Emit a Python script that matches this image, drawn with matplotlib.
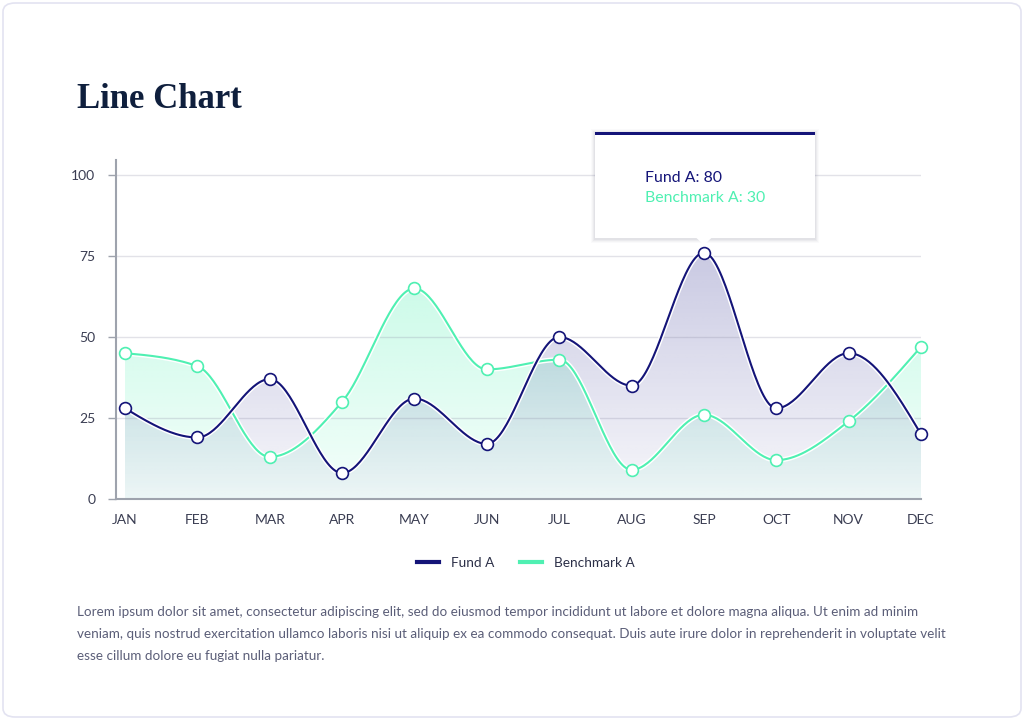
import numpy as np
import matplotlib
matplotlib.use("Agg")
import matplotlib.pyplot as plt
from matplotlib.patches import FancyBboxPatch, Rectangle, Polygon
from matplotlib.lines import Line2D

months = ["JAN", "FEB", "MAR", "APR", "MAY", "JUN", "JUL", "AUG", "SEP", "OCT", "NOV", "DEC"]
fund_a = [28, 19, 37, 8, 31, 17, 50, 35, 76, 28, 45, 20]
bench_a = [45, 41, 13, 30, 65, 40, 43, 9, 26, 12, 24, 47]
y_ticks = [0, 25, 50, 75, 100]
tooltip_month = "SEP"
tooltip_lines = ["Fund A: 80", "Benchmark A: 30"]
title = "Line Chart"
body = ("Lorem ipsum dolor sit amet, consectetur adipiscing elit, sed do eiusmod tempor incididunt ut labore et dolore magna aliqua. Ut enim ad minim\n"
        "veniam, quis nostrud exercitation ullamco laboris nisi ut aliquip ex ea commodo consequat. Duis aute irure dolor in reprehenderit in voluptate velit\n"
        "esse cillum dolore eu fugiat nulla pariatur.")

NAVY = "#141478"
MINT = "#4ff0b2"
SANS = ["Lato", "DejaVu Sans"]


def monotone(xs, ys, n=40):
    xs = np.asarray(xs, float); ys = np.asarray(ys, float)
    m = len(xs)
    h = np.diff(xs); s = np.diff(ys) / h
    t = np.zeros(m)
    for i in range(1, m - 1):
        s0, s1 = s[i - 1], s[i]
        p = (s0 * h[i] + s1 * h[i - 1]) / (h[i - 1] + h[i])
        t[i] = (np.sign(s0) + np.sign(s1)) * min(abs(s0), abs(s1), 0.5 * abs(p))
    t[0] = (3 * s[0] - t[1]) / 2
    t[-1] = (3 * s[-1] - t[-2]) / 2
    X, Y = [], []
    for i in range(m - 1):
        u = np.linspace(0, 1, n, endpoint=(i == m - 2))
        dx = h[i]
        P0 = (xs[i], ys[i]); P1 = (xs[i] + dx / 3, ys[i] + dx / 3 * t[i])
        P2 = (xs[i + 1] - dx / 3, ys[i + 1] - dx / 3 * t[i + 1]); P3 = (xs[i + 1], ys[i + 1])
        for k in range(2):
            c = ((1 - u) ** 3 * P0[k] + 3 * (1 - u) ** 2 * u * P1[k]
                 + 3 * (1 - u) * u ** 2 * P2[k] + u ** 3 * P3[k])
            (X if k == 0 else Y).append(c)
    return np.concatenate(X), np.concatenate(Y)


fig = plt.figure(figsize=(10.24, 7.2), dpi=100)
fig.patch.set_facecolor("white")
W, H = 1024, 720

# card
card = FancyBboxPatch((3 / W, 3 / H), 1018 / W, 714 / H, boxstyle="round,pad=0,rounding_size=0.012",
                      transform=fig.transFigure, facecolor="white", edgecolor="#e3e3f1", linewidth=1.2,
                      zorder=-10)
fig.patches.append(card)

ax_left, ax_right, ax_bottom_px, ax_top_px = 116, 921, 499, 160
ax = fig.add_axes([ax_left / W, 1 - ax_bottom_px / H, (ax_right - ax_left) / W, (ax_bottom_px - ax_top_px) / H])
ax.set_facecolor("none")
x = np.arange(len(months))
ymax = 100 * (ax_bottom_px - ax_top_px) / (ax_bottom_px - 175)
ax.set_xlim(-9 / 72.4, len(months) - 1)
ax.set_ylim(0, ymax)

for yt in y_ticks[1:]:
    ax.axhline(yt, color="#8c8ca6", alpha=0.25, lw=1, zorder=2.5)


def gradient_fill(xc, yc, rgb, a_top, a_bot, z):
    verts = np.column_stack([np.r_[xc, xc[-1], xc[0]], np.r_[yc, 0, 0]])
    poly = Polygon(verts, closed=True, facecolor="none", edgecolor="none")
    ax.add_patch(poly)
    nrow = 256
    alpha = np.linspace(a_top, a_bot, nrow)[:, None]
    img = np.zeros((nrow, 2, 4))
    img[..., :3] = matplotlib.colors.to_rgb(rgb)
    img[..., 3] = alpha
    im = ax.imshow(img, extent=[xc[0], xc[-1], 0, ymax], aspect="auto", origin="upper",
                   zorder=z, interpolation="bilinear")
    im.set_clip_path(poly)


bx, by = monotone(x, bench_a)
fx, fy = monotone(x, fund_a)
gradient_fill(bx, by, MINT, 0.42, 0.06, 1)
gradient_fill(fx, fy, "#3a3a96", 0.36, 0.04, 2)

ax.plot(bx, by, color="white", lw=3.6, zorder=3, solid_capstyle="round")
ax.plot(bx, by, color=MINT, lw=1.5, zorder=3.1, solid_capstyle="round")
ax.plot(fx, fy, color="white", lw=3.6, zorder=4, solid_capstyle="round")
ax.plot(fx, fy, color=NAVY, lw=1.5, zorder=4.1, solid_capstyle="round")
ax.plot(x, bench_a, "o", ms=8.5, mfc="white", mec=MINT, mew=1.2, zorder=5, clip_on=False)
ax.plot(x, fund_a, "o", ms=8.5, mfc="white", mec=NAVY, mew=1.2, zorder=6, clip_on=False)

for sp in ["top", "right"]:
    ax.spines[sp].set_visible(False)
for sp in ["left", "bottom"]:
    ax.spines[sp].set_color("#9ea3ad")
    ax.spines[sp].set_linewidth(1.5)
    ax.spines[sp].set_zorder(7)
ax.set_yticks(y_ticks)
ax.set_xticks(x)
ax.set_xticklabels(months)
ax.tick_params(axis="y", length=6, width=1, color="#9ea3ad", labelsize=10, labelcolor="#3a3d52", pad=9)
ax.tick_params(axis="x", length=0, labelsize=10, labelcolor="#3a3d52", pad=11)
for lab in ax.get_xticklabels() + ax.get_yticklabels():
    lab.set_family(SANS)

# title
fig.text(77 / W, 1 - 108 / H, title, family=["Liberation Serif", "DejaVu Serif"], fontweight="bold",
         fontsize=25, color="#0f1f3d", va="baseline", ha="left")

# tooltip
tx0, tx1, ty0, ty1 = 595, 815, 132, 238
for i, a in enumerate([0.05, 0.04, 0.03, 0.02]):
    d = i + 1
    fig.patches.append(Rectangle(((tx0 - d) / W, 1 - (ty1 + d + 1) / H), (tx1 - tx0 + 2 * d) / W,
                                 (ty1 - ty0 + 2 * d) / H, transform=fig.transFigure,
                                 facecolor="#303050", alpha=a, edgecolor="none", zorder=9))
fig.patches.append(Rectangle((tx0 / W, 1 - ty1 / H), (tx1 - tx0) / W, (ty1 - ty0) / H,
                             transform=fig.transFigure, facecolor="white", edgecolor="none", zorder=10))
fig.patches.append(Rectangle((tx0 / W, 1 - (ty0 + 2.5) / H), (tx1 - tx0) / W, 3 / H,
                             transform=fig.transFigure, facecolor=NAVY, edgecolor="none", zorder=11))
sep_i = months.index(tooltip_month)
px, py = ax.transData.transform((sep_i, fund_a[sep_i]))
tri = Polygon([[(px - 8) / W, 1 - (ty1 - 0.5) / H], [(px + 8) / W, 1 - (ty1 - 0.5) / H], [px / W, 1 - (ty1 + 7) / H]],
              closed=True, transform=fig.transFigure, facecolor="white", edgecolor="none", zorder=10)
fig.patches.append(tri)
fig.text(645 / W, 1 - 178 / H, tooltip_lines[0], family=SANS, fontsize=11.4, color=NAVY, va="center", zorder=12)
fig.text(645 / W, 1 - 198 / H, tooltip_lines[1], family=SANS, fontsize=11.4, color=MINT, va="center", zorder=12)

# legend
handles = [Line2D([], [], color=NAVY, lw=3), Line2D([], [], color=MINT, lw=3)]
leg = fig.legend(handles, ["Fund A", "Benchmark A"], loc="center", bbox_to_anchor=(526 / W, 1 - 563 / H),
                 ncol=2, frameon=False, handlelength=1.6, columnspacing=1.9, handletextpad=0.9,
                 prop={"family": SANS, "size": 9.8})
for t in leg.get_texts():
    t.set_color("#2c3048")

# body text
fig.text(77 / W, 1 - 606 / H, body, family=SANS, fontsize=9.75, color="#5b5e78", va="top", ha="left",
         linespacing=2.0)
fig.savefig("out.png", dpi=100, facecolor="white")
